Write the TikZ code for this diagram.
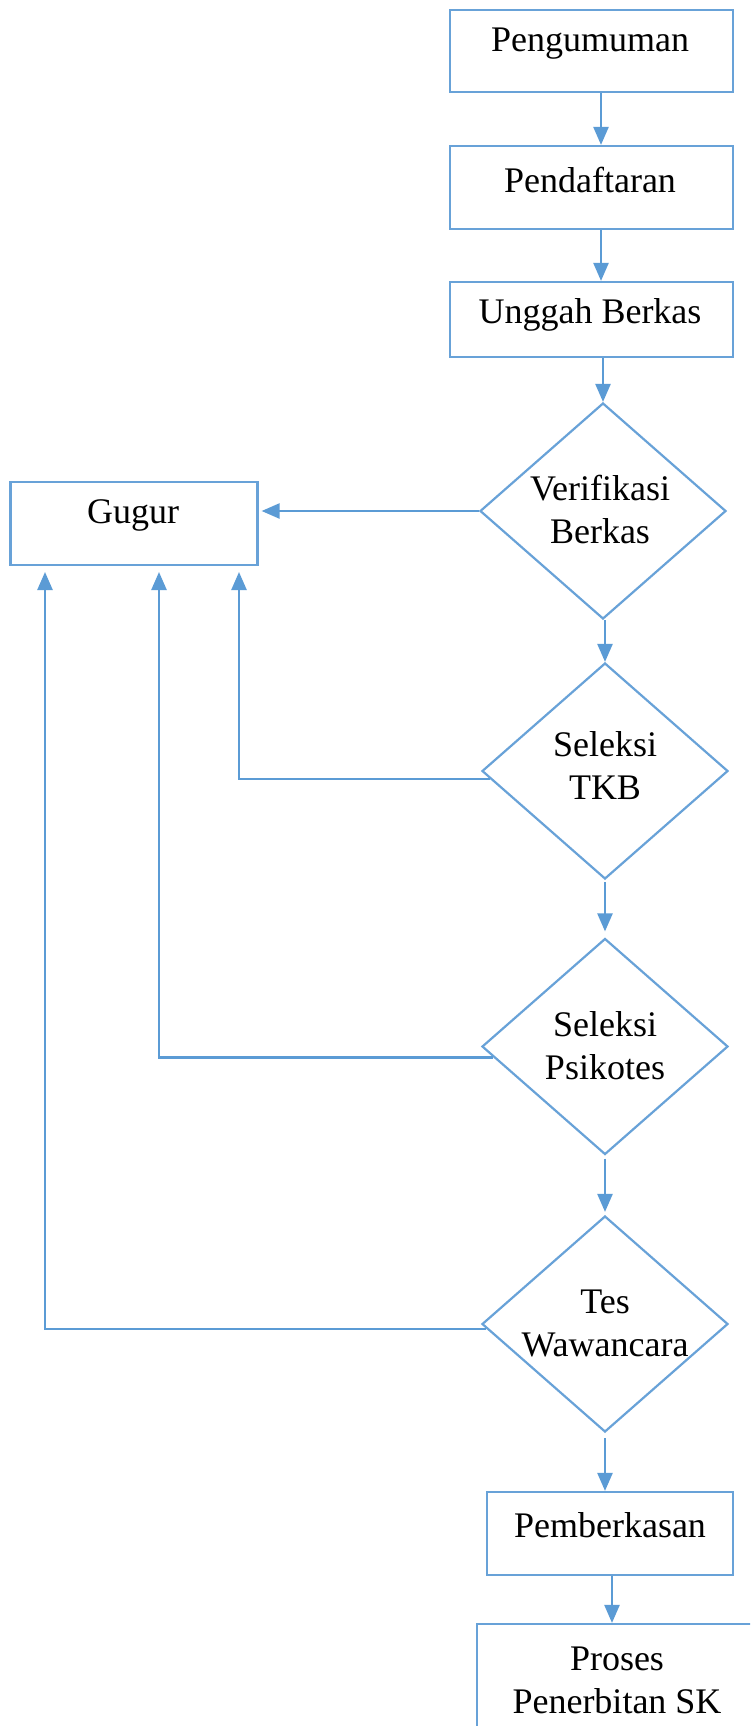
\documentclass[tikz,border=0pt]{standalone}
\usepackage{fontspec}
\setmainfont{Liberation Serif}
\usetikzlibrary{shapes.geometric,arrows.meta,calc}
\definecolor{linec}{HTML}{5B9BD5}
\definecolor{boxc}{HTML}{68A2D8}
\begin{document}
\begin{tikzpicture}[x=1pt,y=-1pt,
  box/.style={draw=boxc, line width=2.2pt, rectangle, inner sep=0pt},
  dia/.style={draw=boxc, line width=2.2pt, diamond, inner sep=0pt, minimum width=246pt, minimum height=216pt},
  txt/.style={font=\fontsize{36}{43}\selectfont, align=center, inner sep=0pt, text=black},
  arr/.style={draw=linec, line width=2.4pt, -{Triangle[length=18pt,width=15pt]}}]
\useasboundingbox (0,0) rectangle (750,1726);
\clip (0,0) rectangle (750,1726);
\fill[white] (0,0) rectangle (750,1726);
% boxes
\node[box, minimum width=283pt, minimum height=82pt] (peng) at (591.5,51) {};
\node[box, minimum width=283pt, minimum height=83pt] (pend) at (591.5,187.5) {};
\node[box, minimum width=283pt, minimum height=75pt] (ungg) at (591.5,319.5) {};
\node[box, minimum width=247pt, minimum height=83pt] (gugur) at (134,523.5) {};
\node[box, minimum width=246pt, minimum height=83pt] (pemb) at (610,1533.5) {};
\node[box, minimum width=280pt, minimum height=156pt] (proses) at (617,1702) {};
% diamonds
\node[dia] (verif) at (603,511) {};
\node[dia] (tkb) at (605,771) {};
\node[dia] (psik) at (605,1046.5) {};
\node[dia] (waw) at (605,1324) {};
% texts
\node[txt] (pengt) at (590,44) {Pengumuman};
\node[txt] (pendt) at (590,180) {Pendaftaran};
\node[txt] (unggt) at (590,315) {Unggah Berkas};
\node[txt] (gugurt) at (133,515) {Gugur};
\node[txt] (veriftxt) at (600,509) {Verifikasi\\Berkas};
\node[txt] (tkbt) at (605,766) {Seleksi\\TKB};
\node[txt] (psikt) at (605,1046) {Seleksi\\Psikotes};
\node[txt] (wawt) at (605,1323) {Tes\\Wawancara};
\node[txt] (pembt) at (610,1525) {Pemberkasan};
\node[txt] (prosest) at (617,1680) {Proses\\Penerbitan SK};
% arrow end points under Gugur
\coordinate (g1) at (45,572);
\coordinate (g2) at (159,572);
\coordinate (g3) at (239,572);
% main flow
\draw[arr] ([xshift=9.5pt]peng.south) -- ([xshift=9.5pt]pend.north);
\draw[arr] ([xshift=9.5pt]pend.south) -- ([xshift=9.5pt]ungg.north);
\draw[arr] (ungg.south -| verif.north) -- (verif.north);
\draw[arr, shorten <=2pt] (verif.south) -- (verif.south -| tkb.north) -- (tkb.north);
\draw[arr, shorten <=2pt, shorten >=6pt] (tkb.south) -- (psik.north);
\draw[arr, shorten <=3pt, shorten >=3pt] (psik.south) -- (waw.north);
\draw[arr, shorten <=5pt] (waw.south) -- (waw.south |- pemb.north);
\draw[arr] ([xshift=2pt]pemb.south) -- ([xshift=2pt]pemb.south |- proses.north);
% fail branches
\draw[arr, shorten >=3pt] (verif.west) -- (verif.west -| gugur.east);
\draw[arr] ($(tkb.west)!0.075!(tkb.south)$) -| (g3);
\draw[arr] ($(psik.west)!0.1!(psik.south)$) -| (g2);
\draw[arr] ($(waw.west)!0.045!(waw.south)$) -| (g1);
\end{tikzpicture}
\end{document}
